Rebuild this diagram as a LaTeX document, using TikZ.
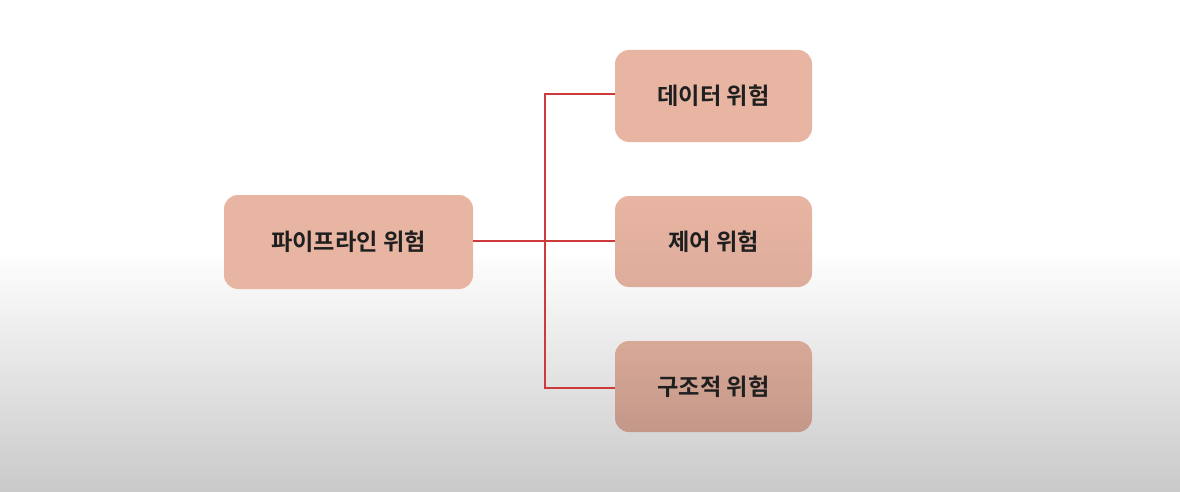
\documentclass[tikz,border=0pt]{standalone}
\usepackage{fontspec}
\newfontfamily\kr{Noto Sans CJK KR Bold}
\definecolor{boxfill}{HTML}{E9B5A3}
\definecolor{linered}{HTML}{CC3A3A}
\begin{document}
\begin{tikzpicture}[x=1pt,y=-1pt,
  riskbox/.style={rounded corners=14pt, draw=none, inner sep=0pt, font=\kr\fontsize{23.2}{26}\selectfont, text=black!88},
  link/.style={draw=linered, line width=1.3pt}]
\useasboundingbox (0,0) rectangle (1180,492);
\fill[white] (0,0) rectangle (1180,250);
\shade[top color=white, bottom color=black!21] (0,250) rectangle (1180,492);
\node[riskbox, fill=boxfill, minimum width=249pt, minimum height=94pt] (p) at (348.5,242) {파이프라인 위험};
\node[riskbox, fill=boxfill, minimum width=197pt, minimum height=92pt] (d) at (713.5,96) {데이터 위험};
\node[riskbox, top color=boxfill, bottom color=boxfill!95!black, minimum width=197pt, minimum height=91pt] (c) at (713.5,241.5) {제어 위험};
\node[riskbox, top color=boxfill!93!black, bottom color=boxfill!84!black, minimum width=197pt, minimum height=91pt] (s) at (713.5,386.5) {구조적 위험};
\coordinate (j) at (545,241);
\draw[link] (p.east |- j) -- (c.west |- j);
\draw[link] (d.west |- 0,94) -- (545,94) -- (545,388) -- (s.west |- 0,388);
\end{tikzpicture}
\end{document}
